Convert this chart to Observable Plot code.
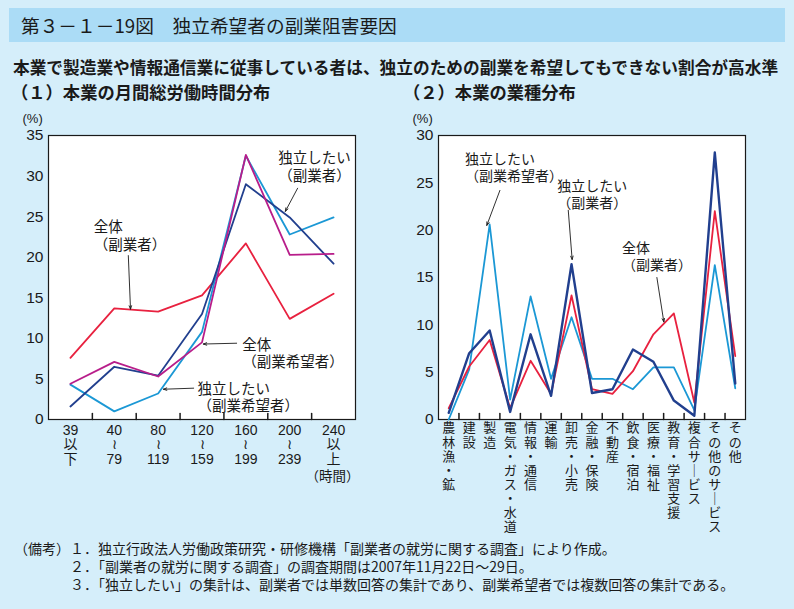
<!DOCTYPE html>
<html><head><meta charset="utf-8">
<script src="https://cdn.jsdelivr.net/npm/d3@7"></script>
<script src="https://cdn.jsdelivr.net/npm/@observablehq/plot@0.6"></script>
<style>
body{margin:0;background:#d5eefa;}
#page{position:relative;width:794px;height:609px;overflow:hidden;background:#d5eefa;font-family:"Noto Sans CJK JP",sans-serif;color:#1a1a1a;}
.band{position:absolute;left:9px;top:8px;width:776px;height:34px;background:#abdcf6;}
.title{position:absolute;left:21px;top:8px;height:34px;line-height:34px;font-size:18.7px;white-space:nowrap;}
.sub{position:absolute;left:13px;top:56px;line-height:22px;font-size:16.7px;font-weight:bold;white-space:nowrap;}
.sec{position:absolute;top:81px;line-height:22px;font-size:17.3px;font-weight:bold;white-space:nowrap;}
.note{position:absolute;font-size:14px;line-height:18px;white-space:nowrap;}
#left{position:absolute;left:0;top:105px;}
#right{position:absolute;left:395px;top:105px;}
</style></head>
<body><div id="page">
<div class="band"></div>
<div class="title">第３－１－19図　独立希望者の副業阻害要因</div>
<div class="sub">本業で製造業や情報通信業に従事している者は、独立のための副業を希望してもできない割合が高水準</div>
<div class="sec" style="left:11px">（１）本業の月間総労働時間分布</div>
<div class="sec" style="left:403px">（２）本業の業種分布</div>
<div id="left"></div>
<div id="right"></div>
<div class="note" style="left:14px;top:539px">（備考）</div>
<div class="note" style="left:70px;top:539px">１．独立行政法人労働政策研究・研修機構「副業者の就労に関する調査」により作成。</div>
<div class="note" style="left:70px;top:557px">２．「副業者の就労に関する調査」の調査期間は2007年11月22日～29日。</div>
<div class="note" style="left:70px;top:575px">３．「独立したい」の集計は、副業者では単数回答の集計であり、副業希望者では複数回答の集計である。</div>
</div>
<script>
// ---- (1) hours ----
const hourLabels = ["39\n以\n下","40\n≀\n79","80\n≀\n119","120\n≀\n159","160\n≀\n199","200\n≀\n239","240\n以\n上"];
const hourAllSide   = [7.6, 13.7, 13.3, 15.3, 21.7, 12.4, 15.5]; // 全体（副業者）
const hourIndepWish = [4.3, 1.0, 3.2, 10.8, 32.5, 22.8, 24.9];   // 独立したい（副業希望者）
const hourIndepSide = [1.6, 6.5, 5.4, 13.0, 29.0, 24.9, 19.2];   // 独立したい（副業者）
const hourAllWish   = [4.4, 7.1, 5.3, 9.5, 32.6, 20.3, 20.4];    // 全体（副業希望者）
const hourTicks = [0, 5, 10, 15, 20, 25, 30, 35];

// ---- (2) industries ----
const industries = ["農林漁・鉱","建設","製造","電気・ガス・水道","情報・通信","運輸","卸売・小売","金融・保険","不動産","飲食・宿泊","医療・福祉","教育・学習支援","複合サービス","その他のサービス","その他"];
const indIndepWish = [0.0, 5.3, 20.6, 2.1, 13.0, 4.3, 10.8, 4.3, 4.3, 3.2, 5.5, 5.5, 1.0, 16.3, 3.3]; // 独立したい（副業希望者）
const indAllSide   = [1.2, 5.6, 8.4, 1.2, 6.2, 2.7, 13.1, 3.2, 2.7, 5.1, 9.0, 11.2, 1.8, 22.0, 6.7]; // 全体（副業者）
const indIndepSide = [0.7, 7.0, 9.4, 0.8, 9.0, 2.5, 16.4, 2.8, 3.2, 7.4, 6.1, 2.0, 0.4, 28.2, 3.8]; // 独立したい（副業者）
const indTicks = [0, 5, 10, 15, 20, 25, 30];

const seriesKeys = ["全体（副業者）","全体（副業希望者）","独立したい（副業希望者）","独立したい（副業者）"];
const seriesColors = ["#e8213f","#b81d8a","#1b98d5","#213f8e"];

const hourNotes = [
  {label:"独立したい\n（副業者）", tx:4.74, ty:31.2, x1:5.18, y1:28.5, x2:4.90, y2:25.65},
  {label:"全体\n（副業者）", tx:0.53, ty:22.7, x1:1.32, y1:20.2, x2:1.37, y2:13.6},
  {label:"全体\n（副業希望者）", tx:3.92, ty:8.2, x1:3.79, y1:9.4, x2:3.03, y2:9.3},
  {label:"独立したい\n（副業希望者）", tx:2.90, ty:2.8, x1:2.81, y1:3.86, x2:2.12, y2:3.73}
];
const indNotes = [
  {label:"独立したい\n（副業希望者）", tx:0.80, ty:26.7, x1:2.50, y1:24.2, x2:1.86, y2:20.5},
  {label:"独立したい\n（副業者）", tx:5.30, ty:23.8, x1:5.84, y1:22.1, x2:6.03, y2:16.9},
  {label:"全体\n（副業者）", tx:8.47, ty:17.3, x1:10.17, y1:15.0, x2:10.51, y2:10.3}
];

const font = "Liberation Sans, Arial, 'Noto Sans CJK JP', sans-serif";
const tickShape = {draw(c, l){ c.moveTo(0,0); c.lineTo(0,-l); }};

function rows(series){
  const out = [];
  for (const [key, vals] of series) vals.forEach((v,i)=>out.push({key, i, v}));
  return out;
}

const hourRows = rows([
  ["全体（副業者）", hourAllSide],
  ["独立したい（副業希望者）", hourIndepWish],
  ["独立したい（副業者）", hourIndepSide],
  ["全体（副業希望者）", hourAllWish]
]);
const hourIdx = hourLabels.map((_,i)=>i);
const hourBounds = hourIdx.slice(1).map(i=>i-0.5);

const left = Plot.plot({
  width: 395, height: 400,
  marginLeft: 48, marginRight: 40, marginTop: 30, marginBottom: 86,
  style: {background:"transparent", fontFamily: font, fontSize:"15px", color:"#1a1a1a", overflow:"visible"},
  x: {domain: [-0.5, hourLabels.length - 0.5], axis: null},
  y: {domain: [0, 35], axis: null},
  color: {domain: seriesKeys, range: seriesColors},
  marks: [
    Plot.frame({fill:"white", stroke:"#1a1a1a", strokeWidth:1.2}),
    Plot.axisY({ticks: hourTicks, tickSize: 0, tickPadding: 5, fontSize: 15.5, label: null}),
    Plot.vector(hourBounds, {x: d=>d, frameAnchor:"bottom", length: 6, anchor:"start", shape: tickShape, stroke:"#1a1a1a"}),
    Plot.line(hourRows, {x:"i", y:"v", z:"key", stroke:"key", strokeWidth:1.8}),
    Plot.text(hourLabels, {x:(d,i)=>i, frameAnchor:"bottom", lineAnchor:"top", dy:5, lineHeight:1.03, fontSize:14}),
    Plot.text(["（時間）"], {frameAnchor:"bottom-right", textAnchor:"end", dx:4, dy:61, fontSize:13.5}),
    Plot.text(["(%)"], {frameAnchor:"top-left", textAnchor:"start", dx:-26, dy:-22, fontSize:13}),
    Plot.arrow(hourNotes, {x1:"x1", y1:"y1", x2:"x2", y2:"y2", stroke:"#1a1a1a", strokeWidth:0.9, headLength:6, headAngle:40}),
    Plot.text(hourNotes, {x:"tx", y:"ty", text:"label", textAnchor:"start", lineAnchor:"middle", lineHeight:1.22, fontSize:14.5})
  ]
});
document.getElementById("left").appendChild(left);

const indRows = rows([
  ["独立したい（副業希望者）", indIndepWish],
  ["全体（副業者）", indAllSide],
  ["独立したい（副業者）", indIndepSide]
]);
const indIdx = industries.map((_,i)=>i);
const indBounds = indIdx.slice(1).map(i=>i-0.5);
const vert = s => s.split("").map(c => c === "ー" ? "｜" : c).join("\n");

const right = Plot.plot({
  width: 399, height: 440,
  marginLeft: 43, marginRight: 49, marginTop: 30, marginBottom: 126,
  style: {background:"transparent", fontFamily: font, fontSize:"15px", color:"#1a1a1a", overflow:"visible"},
  x: {domain: [-0.5, industries.length - 0.5], axis: null},
  y: {domain: [0, 30], axis: null},
  color: {domain: seriesKeys, range: seriesColors},
  marks: [
    Plot.frame({fill:"white", stroke:"#1a1a1a", strokeWidth:1.2}),
    Plot.axisY({ticks: indTicks, tickSize: 0, tickPadding: 5, fontSize: 15.5, label: null}),
    Plot.vector(indBounds, {x: d=>d, frameAnchor:"bottom", length: 6, anchor:"start", shape: tickShape, stroke:"#1a1a1a"}),
    Plot.line(indRows, {x:"i", y:"v", z:"key", stroke:"key", strokeWidth: d => d.key === "独立したい（副業者）" ? 2.4 : 1.8}),
    Plot.text(industries, {x:(d,i)=>i, text: d => vert(d), frameAnchor:"bottom", lineAnchor:"top", dy:3, lineHeight:1.08, fontSize:13, fontFamily:"'Noto Sans CJK JP', sans-serif"}),
    Plot.text(["(%)"], {frameAnchor:"top-left", textAnchor:"start", dx:-26, dy:-22, fontSize:13}),
    Plot.arrow(indNotes, {x1:"x1", y1:"y1", x2:"x2", y2:"y2", stroke:"#1a1a1a", strokeWidth:0.9, headLength:6, headAngle:40}),
    Plot.text(indNotes, {x:"tx", y:"ty", text:"label", textAnchor:"start", lineAnchor:"middle", lineHeight:1.22, fontSize:14})
  ]
});
document.getElementById("right").appendChild(right);
</script>
</body></html>
